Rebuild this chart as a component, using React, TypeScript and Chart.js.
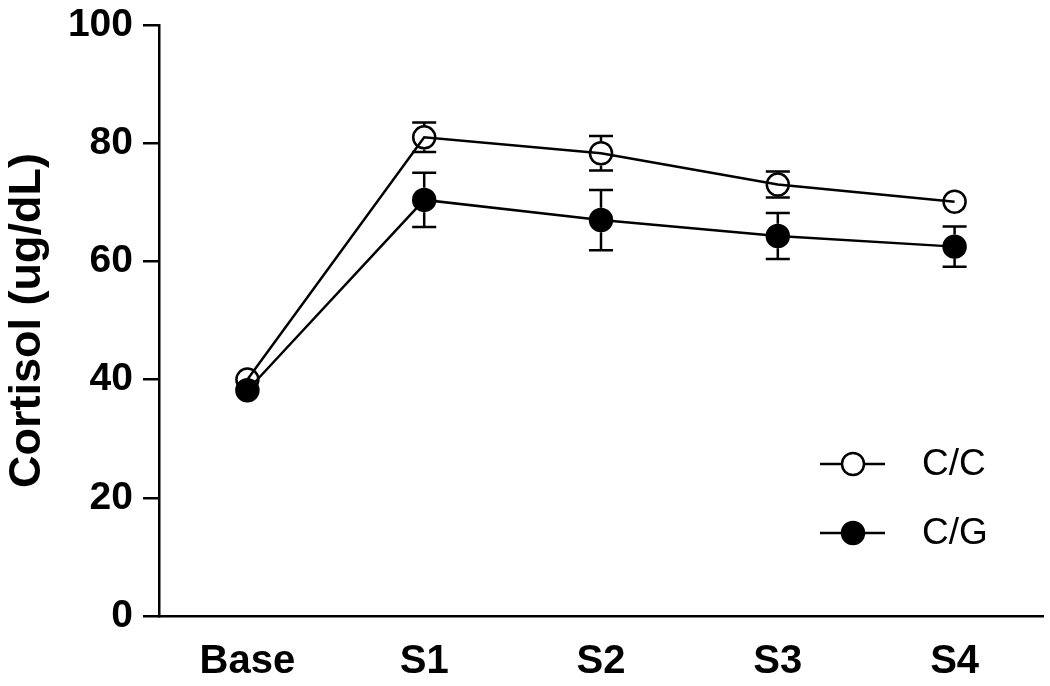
import React, { useEffect, useRef } from "react";
import { Chart, registerables } from "chart.js";

Chart.register(...registerables);

const categories = ["Base", "S1", "S2", "S3", "S4"];
const seriesLabels = ["C/C", "C/G"];
const ccMean = [40.0, 81.0, 78.3, 73.0, 70.1];
const ccErr = [1.0, 2.5, 2.9, 2.2, 1.2];
const cgMean = [38.2, 70.4, 67.0, 64.3, 62.5];
const cgErr = [1.0, 4.6, 5.1, 3.9, 3.4];
const yTicks = [0, 20, 40, 60, 80, 100];
const yTitle = "Cortisol (ug/dL)";

const FONT = "'Liberation Sans', Arial, Helvetica, sans-serif";
const LW = 2.5;

const errorBarPlugin = {
  id: "errorBars",
  afterDatasetsDraw(chart: any) {
    const { ctx, scales } = chart;
    const yScale = scales.y;
    chart.data.datasets.forEach((ds: any, di: number) => {
      const meta = chart.getDatasetMeta(di);
      const errs: number[] = ds.errors || [];
      const r = (ds.pointRadius || 0) + (ds.pointBorderWidth || 0) / 2;
      meta.data.forEach((pt: any, i: number) => {
        const v = ds.data[i];
        const e = errs[i] || 0;
        const yTop = yScale.getPixelForValue(v + e);
        const yBot = yScale.getPixelForValue(v - e);
        const cx = pt.x;
        const cy = pt.y;
        ctx.save();
        ctx.strokeStyle = "#000";
        ctx.lineWidth = LW;
        ctx.beginPath();
        if (cy - yTop > r) {
          ctx.moveTo(cx, cy - r);
          ctx.lineTo(cx, yTop);
          ctx.moveTo(cx - 12, yTop);
          ctx.lineTo(cx + 12, yTop);
        }
        if (yBot - cy > r) {
          ctx.moveTo(cx, cy + r);
          ctx.lineTo(cx, yBot);
          ctx.moveTo(cx - 12, yBot);
          ctx.lineTo(cx + 12, yBot);
        }
        ctx.stroke();
        ctx.restore();
      });
    });
  },
};

const legendPlugin = {
  id: "customLegend",
  afterDraw(chart: any) {
    const { ctx, chartArea } = chart;
    const baseX = chartArea.right - 223;
    const baseY = chartArea.bottom - 152;
    chart.data.datasets.forEach((ds: any, i: number) => {
      const y = baseY + i * 69;
      ctx.save();
      ctx.strokeStyle = "#000";
      ctx.lineWidth = LW;
      ctx.beginPath();
      ctx.moveTo(baseX, y);
      ctx.lineTo(baseX + 65, y);
      ctx.stroke();
      ctx.beginPath();
      ctx.arc(baseX + 33, y, ds.pointRadius, 0, Math.PI * 2);
      ctx.fillStyle = ds.pointBackgroundColor === "#000" ? "#000" : "#fff";
      ctx.fill();
      ctx.stroke();
      ctx.fillStyle = "#000";
      ctx.font = `37px ${FONT}`;
      ctx.textAlign = "left";
      ctx.textBaseline = "middle";
      ctx.fillText(ds.label, baseX + 102, y + 1);
      ctx.restore();
    });
  },
};

export default function App() {
  const canvasRef = useRef<HTMLCanvasElement | null>(null);

  useEffect(() => {
    document.body.style.margin = "0";
    const canvas = canvasRef.current;
    if (!canvas) return;
    const chart = new Chart(canvas, {
      type: "line",
      data: {
        labels: categories,
        datasets: [
          {
            label: seriesLabels[0],
            data: ccMean,
            errors: ccErr,
            borderColor: "#000",
            borderWidth: LW,
            pointRadius: 11,
            pointBorderWidth: LW,
            pointBackgroundColor: "rgba(0,0,0,0)",
            pointBorderColor: "#000",
            fill: false,
            tension: 0,
            order: 1,
          } as any,
          {
            label: seriesLabels[1],
            data: cgMean,
            errors: cgErr,
            borderColor: "#000",
            borderWidth: LW,
            pointRadius: 11,
            pointBorderWidth: LW,
            pointBackgroundColor: "#000",
            pointBorderColor: "#000",
            fill: false,
            tension: 0,
            order: 0,
          } as any,
        ],
      },
      options: {
        animation: false,
        responsive: false,
        devicePixelRatio: 1,
        layout: { autoPadding: false, padding: { top: 25, right: 7, left: 0, bottom: 0 } },
        plugins: {
          legend: { display: false },
          tooltip: { enabled: false },
        },
        scales: {
          x: {
            type: "category",
            offset: true,
            grid: { display: false, drawTicks: false },
            border: { display: true, color: "#000", width: 2.5 },
            ticks: {
              color: "#000",
              font: { family: FONT, size: 40, weight: "bold" },
              padding: 22,
              maxRotation: 0,
              autoSkip: false,
            },
            afterFit(scale: any) {
              scale.height = 70;
              scale.paddingLeft = 0;
              scale.paddingRight = 0;
            },
          },
          y: {
            type: "linear",
            min: 0,
            max: 100,
            afterBuildTicks(scale: any) {
              scale.ticks = yTicks.map((v) => ({ value: v }));
            },
            grid: {
              drawOnChartArea: false,
              drawTicks: true,
              tickLength: 16,
              color: "#000",
              lineWidth: 2.5,
            },
            border: { display: true, color: "#000", width: 2.5 },
            ticks: {
              color: "#000",
              font: { family: FONT, size: 39, weight: "bold" },
              padding: 10,
            },
            title: {
              display: true,
              text: yTitle,
              color: "#000",
              font: { family: FONT, size: 45, weight: "bold" },
              padding: { top: 1, bottom: 0 },
            },
            afterFit(scale: any) {
              scale.width = 159;
              scale.paddingTop = 0;
              scale.paddingBottom = 0;
            },
          },
        },
      },
      plugins: [errorBarPlugin, legendPlugin],
    });
    return () => chart.destroy();
  }, []);

  return (
    <div style={{ position: "fixed", left: 0, top: 0, width: 1050, height: 686, background: "#fff" }}>
      <canvas ref={canvasRef} width={1050} height={686} />
    </div>
  );
}
